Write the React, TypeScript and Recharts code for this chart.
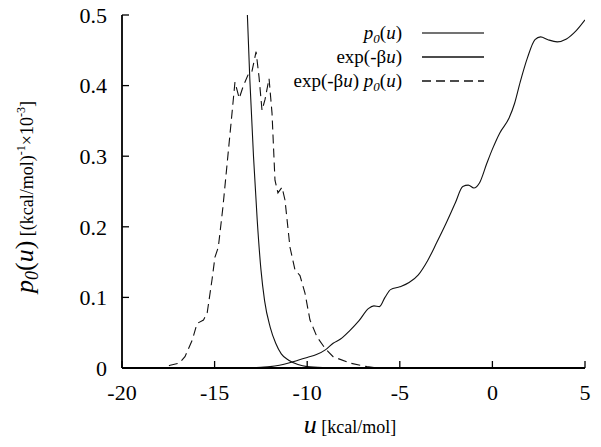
import React from 'react';
import { LineChart, Line, XAxis, YAxis } from 'recharts';

const p0Data = [
  { u: -13.0, v: 0 }, { u: -12.5, v: 0.001 }, { u: -12.0, v: 0.002 }, { u: -11.5, v: 0.004 },
  { u: -11.0, v: 0.007 }, { u: -10.5, v: 0.011 }, { u: -10.0, v: 0.015 }, { u: -9.5, v: 0.019 },
  { u: -9.0, v: 0.026 }, { u: -8.6, v: 0.035 }, { u: -8.2, v: 0.041 }, { u: -7.7, v: 0.053 },
  { u: -7.2, v: 0.067 }, { u: -6.7, v: 0.084 }, { u: -6.4, v: 0.088 }, { u: -6.1, v: 0.087 },
  { u: -5.8, v: 0.1 }, { u: -5.5, v: 0.111 }, { u: -5.0, v: 0.115 }, { u: -4.5, v: 0.121 },
  { u: -4.0, v: 0.132 }, { u: -3.5, v: 0.152 }, { u: -3.0, v: 0.178 }, { u: -2.5, v: 0.205 },
  { u: -2.0, v: 0.234 }, { u: -1.6, v: 0.257 }, { u: -1.3, v: 0.259 }, { u: -1.0, v: 0.255 },
  { u: -0.7, v: 0.262 }, { u: -0.3, v: 0.29 }, { u: 0.0, v: 0.31 }, { u: 0.4, v: 0.333 },
  { u: 0.9, v: 0.354 }, { u: 1.2, v: 0.375 }, { u: 1.5, v: 0.405 }, { u: 1.9, v: 0.44 },
  { u: 2.3, v: 0.465 }, { u: 2.6, v: 0.469 }, { u: 3.0, v: 0.465 }, { u: 3.5, v: 0.462 },
  { u: 4.0, v: 0.466 }, { u: 4.5, v: 0.477 }, { u: 5.0, v: 0.493 },
];

const expData = [
  { u: -13.6, v: 0.75 }, { u: -13.3, v: 0.55 }, { u: -13.1, v: 0.41 }, { u: -12.9, v: 0.3 },
  { u: -12.7, v: 0.21 }, { u: -12.5, v: 0.14 }, { u: -12.3, v: 0.095 }, { u: -12.0, v: 0.058 },
  { u: -11.7, v: 0.035 }, { u: -11.4, v: 0.02 }, { u: -11.0, v: 0.011 }, { u: -10.5, v: 0.005 },
  { u: -10.0, v: 0.002 }, { u: -9.0, v: 0.0005 }, { u: -8.0, v: 0 }, { u: -5.0, v: 0 },
  { u: 0, v: 0 }, { u: 5, v: 0 },
];

const prodData = [
  { u: -18.2, v: 0 }, { u: -17.8, v: 0 }, { u: -17.4, v: 0.004 }, { u: -16.9, v: 0.007 },
  { u: -16.6, v: 0.016 }, { u: -16.2, v: 0.04 }, { u: -15.95, v: 0.063 }, { u: -15.6, v: 0.068 },
  { u: -15.4, v: 0.078 }, { u: -15.14, v: 0.125 }, { u: -14.98, v: 0.157 }, { u: -14.8, v: 0.171 },
  { u: -14.55, v: 0.228 }, { u: -14.27, v: 0.304 }, { u: -14.06, v: 0.361 }, { u: -13.9, v: 0.405 },
  { u: -13.67, v: 0.382 }, { u: -13.47, v: 0.398 }, { u: -13.2, v: 0.415 }, { u: -13.0, v: 0.418 },
  { u: -12.76, v: 0.448 }, { u: -12.6, v: 0.412 }, { u: -12.44, v: 0.365 }, { u: -12.28, v: 0.38 },
  { u: -12.06, v: 0.41 }, { u: -11.9, v: 0.361 }, { u: -11.74, v: 0.266 }, { u: -11.58, v: 0.248 },
  { u: -11.36, v: 0.256 }, { u: -11.2, v: 0.238 }, { u: -10.93, v: 0.171 }, { u: -10.66, v: 0.139 },
  { u: -10.39, v: 0.131 }, { u: -10.12, v: 0.106 }, { u: -9.85, v: 0.068 }, { u: -9.47, v: 0.044 },
  { u: -9.04, v: 0.028 }, { u: -8.6, v: 0.016 }, { u: -7.69, v: 0.007 }, { u: -6.77, v: 0.002 },
  { u: -6.2, v: 0 }, { u: 5, v: 0 },
];

const xTicks = [-20, -15, -10, -5, 0, 5];
const yTicks = [0, 0.1, 0.2, 0.3, 0.4, 0.5];

const FONT = 'Liberation Serif';
const W = 601;
const H = 447;

const legendItems = [
  { key: 'p0', dash: undefined as string | undefined },
  { key: 'exp', dash: undefined as string | undefined },
  { key: 'prod', dash: '9 5' },
];

const tickStyle = { fill: '#000', fontSize: 22, fontFamily: FONT };

function LegendLabel({ k }: { k: string }) {
  const p0 = (
    <>
      <tspan fontStyle="italic">p</tspan>
      <tspan fontStyle="italic" fontSize={13} dy={4}>0</tspan>
      <tspan dy={-4}>(</tspan>
      <tspan fontStyle="italic">u</tspan>
      <tspan>)</tspan>
    </>
  );
  const ex = (
    <>
      <tspan>exp(-β</tspan>
      <tspan fontStyle="italic">u</tspan>
      <tspan>)</tspan>
    </>
  );
  if (k === 'p0') return p0;
  if (k === 'exp') return ex;
  return (
    <>
      {ex}
      <tspan> </tspan>
      {p0}
    </>
  );
}

export default function App() {
  return (
    <div style={{ position: 'absolute', left: 0, top: 0, width: W, height: H, background: '#fff' }}>
      <LineChart
        width={W}
        height={H}
        margin={{ top: 15, right: 16, bottom: 0, left: 0 }}
      >
        <XAxis
          dataKey="u"
          type="number"
          domain={[-20, 5]}
          ticks={xTicks}
          allowDataOverflow
          height={79}
          tickSize={-7}
          tickMargin={23}
          axisLine={{ stroke: '#000', strokeWidth: 1.8 }}
          tickLine={{ stroke: '#000', strokeWidth: 1.3 }}
          tick={tickStyle}
          interval={0}
        />
        <XAxis
          xAxisId="top"
          orientation="top"
          type="number"
          domain={[-20, 5]}
          ticks={xTicks}
          height={0}
          tickSize={-7}
          tickMargin={0}
          tickFormatter={() => ''}
          axisLine={{ stroke: '#000', strokeWidth: 1.8 }}
          tickLine={{ stroke: '#000', strokeWidth: 1.3 }}
          interval={0}
        />
        <YAxis
          type="number"
          domain={[0, 0.5]}
          ticks={yTicks}
          allowDataOverflow
          width={122}
          tickSize={-7}
          tickMargin={22}
          axisLine={{ stroke: '#000', strokeWidth: 1.8 }}
          tickLine={{ stroke: '#000', strokeWidth: 1.3 }}
          tick={tickStyle}
          interval={0}
        />
        <YAxis
          yAxisId="right"
          orientation="right"
          type="number"
          domain={[0, 0.5]}
          ticks={yTicks}
          width={0}
          tickSize={-7}
          tickMargin={0}
          tickFormatter={() => ''}
          axisLine={{ stroke: '#000', strokeWidth: 1.8 }}
          tickLine={{ stroke: '#000', strokeWidth: 1.3 }}
          interval={0}
        />
        <Line data={p0Data} dataKey="v" type="monotone" stroke="#111" strokeWidth={1.1} dot={false} isAnimationActive={false} />
        <Line data={expData} dataKey="v" type="monotone" stroke="#111" strokeWidth={1.1} dot={false} isAnimationActive={false} />
        <Line data={prodData} dataKey="v" type="linear" stroke="#111" strokeWidth={1.1} strokeDasharray="9 5" dot={false} isAnimationActive={false} />
      </LineChart>
      <svg width={W} height={H} style={{ position: 'absolute', left: 0, top: 0, pointerEvents: 'none' }}>
        {legendItems.map((it, i) => (
          <g key={it.key}>
            <text x={402} y={39 + i * 24} textAnchor="end" fontSize={19} fill="#000" fontFamily={FONT}>
              <LegendLabel k={it.key} />
            </text>
            <line x1={422} x2={484} y1={33 + i * 24} y2={33 + i * 24} stroke={i === 0 ? '#444' : '#111'} strokeWidth={1.3} strokeDasharray={it.dash} />
          </g>
        ))}
        <text x={350} y={433} textAnchor="middle" fill="#000" fontFamily={FONT}>
          <tspan fontStyle="italic" fontSize={26}>u</tspan>
          <tspan fontSize={18}> [kcal/mol]</tspan>
        </text>
        <text x={33} y={197} textAnchor="middle" fill="#000" transform="rotate(-90 33 197)" fontFamily={FONT}>
          <tspan fontStyle="italic" fontSize={26}>p</tspan>
          <tspan fontStyle="italic" fontSize={18} dy={5}>0</tspan>
          <tspan fontSize={26} dy={-5}>(</tspan>
          <tspan fontStyle="italic" fontSize={26}>u</tspan>
          <tspan fontSize={26}>)</tspan>
          <tspan fontSize={18}> [(kcal/mol)</tspan>
          <tspan fontSize={12} dy={-8}>-1</tspan>
          <tspan fontSize={18} dy={8}>×10</tspan>
          <tspan fontSize={12} dy={-8}>-3</tspan>
          <tspan fontSize={18} dy={8}>]</tspan>
        </text>
      </svg>
    </div>
  );
}
